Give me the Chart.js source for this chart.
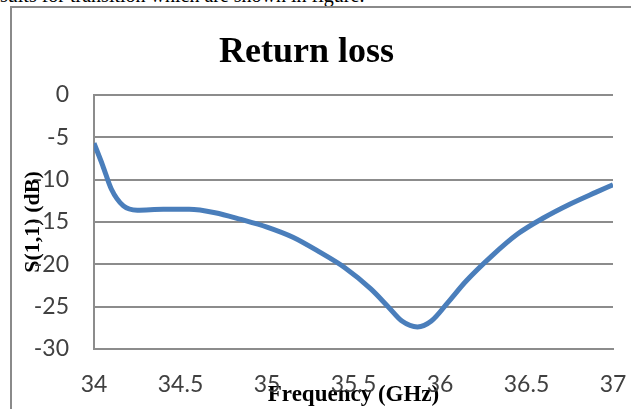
<!DOCTYPE html>
<html>
<head>
<meta charset="utf-8">
<script src="https://cdn.jsdelivr.net/npm/chart.js@4/dist/chart.umd.min.js"></script>
<style>
  html, body { margin: 0; padding: 0; background: #fff; }
  body { width: 631px; height: 409px; position: relative; overflow: hidden; }
  #topText { position: absolute; left: 0; top: -15px; font: 20px/20px "Liberation Serif", "Times New Roman", serif; color: #000; white-space: nowrap; }
  #frame { position: absolute; left: 10px; top: 6px; width: 700px; height: 500px; border-top: 2px solid #8a8a8a; border-left: 2px solid #8a8a8a; }
  #c { position: absolute; left: 0; top: 0; }
</style>
</head>
<body>
<div id="topText">sults for transition which are shown in figure.</div>
<div id="frame"></div>
<canvas id="c" width="631" height="409"></canvas>
<script>
// Data
const freqGHz = [34.0, 34.05, 34.1, 34.17, 34.25, 34.4, 34.55, 34.7, 34.85, 35.0, 35.15, 35.3, 35.45, 35.6, 35.7, 35.78, 35.87, 35.95, 36.05, 36.15, 36.3, 36.45, 36.6, 36.75, 36.9, 37.0];
const s11dB   = [-5.7, -8.3, -11.1, -13.1, -13.6, -13.5, -13.5, -13.9, -14.7, -15.6, -16.8, -18.5, -20.4, -22.9, -25.0, -26.7, -27.4, -26.7, -24.4, -22.0, -19.0, -16.4, -14.5, -12.9, -11.5, -10.6];
const chartTitle = "Return loss";
const xTitle = "Frequency (GHz)";
const yTitle = "S(1,1) (dB)";

const points = freqGHz.map((f, i) => ({ x: f, y: s11dB[i] }));
const gridColor = '#8c8c8c';
const tickFont = { family: 'Lato, "Liberation Sans", sans-serif', size: 23 };
const serifBold = (size) => ({ family: '"Liberation Serif", "Times New Roman", serif', size: size, weight: 'bold' });

new Chart(document.getElementById('c'), {
  type: 'line',
  data: {
    datasets: [{
      data: points,
      borderColor: '#4a7ebb',
      borderWidth: 5,
      pointRadius: 0,
      fill: false,
      tension: 0.4,
      cubicInterpolationMode: 'monotone'
    }]
  },
  options: {
    responsive: false,
    animation: false,
    layout: { padding: { left: 0, right: 18, top: 0, bottom: 0 } },
    plugins: {
      legend: { display: false },
      tooltip: { enabled: false },
      title: {
        display: true,
        text: chartTitle,
        color: '#000',
        font: serifBold(36),
        padding: { top: 31, bottom: 20.8 }
      }
    },
    scales: {
      x: {
        type: 'linear',
        min: 34, max: 37,
        ticks: { stepSize: 0.5, color: '#404040', font: tickFont, padding: 22, maxRotation: 0,
                 callback: (v) => String(Math.round(v * 10) / 10) },
        grid: { display: false, drawTicks: false },
        border: { display: true, color: gridColor, width: 2 },
        title: { display: true, text: xTitle, color: '#000', font: serifBold(23), padding: { top: 0, bottom: 0 } },
        afterFit: (s) => { s.height = 60; s.paddingRight = 0; s.paddingLeft = 0; }
      },
      y: {
        type: 'linear',
        min: -30, max: 0,
        ticks: { stepSize: 5, color: '#404040', font: tickFont, padding: 25 },
        grid: { color: gridColor, lineWidth: 2, drawTicks: false },
        border: { display: true, color: gridColor, width: 2 },
        title: { display: true, text: yTitle, color: '#000', font: serifBold(22), padding: { top: 20, bottom: 0 } },
        afterFit: (s) => { s.width = 94; }
      }
    }
  }
});
</script>
</body>
</html>
